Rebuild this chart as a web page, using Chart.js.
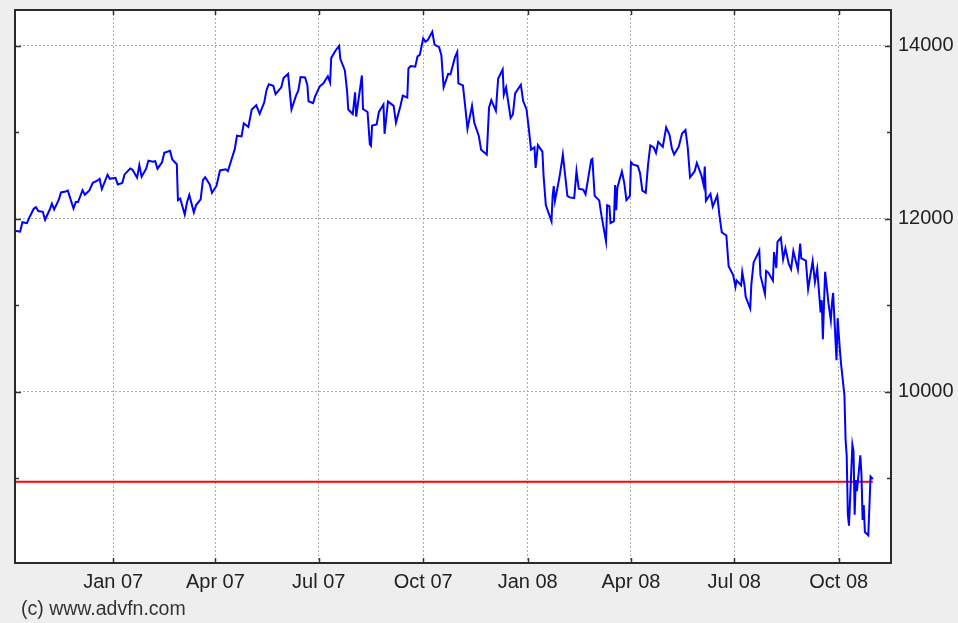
<!DOCTYPE html>
<html>
<head>
<meta charset="utf-8">
<script src="https://cdn.jsdelivr.net/npm/chart.js@4"></script>
<style>
  html, body { margin: 0; padding: 0; background: #eeeeee; }
  #wrap { width: 958px; height: 623px; position: relative; }
</style>
</head>
<body>
<div id="wrap"><canvas id="c"></canvas></div>
<script>
// ---- data ----
const dates = [
"2006-10-05","2006-10-09","2006-10-11","2006-10-13","2006-10-17","2006-10-19","2006-10-23","2006-10-25","2006-10-27","2006-10-31",
"2006-11-02","2006-11-06","2006-11-08","2006-11-10","2006-11-14","2006-11-16","2006-11-20","2006-11-22","2006-11-27","2006-11-29",
"2006-12-01","2006-12-05","2006-12-07","2006-12-11","2006-12-14","2006-12-18","2006-12-20","2006-12-22","2006-12-27","2006-12-29",
"2007-01-03","2007-01-05","2007-01-09","2007-01-11","2007-01-16","2007-01-18","2007-01-22","2007-01-24","2007-01-26","2007-01-30",
"2007-02-01","2007-02-05","2007-02-07","2007-02-09","2007-02-13","2007-02-15","2007-02-20","2007-02-22","2007-02-26","2007-02-27",
"2007-03-01","2007-03-05","2007-03-07","2007-03-09","2007-03-13","2007-03-15","2007-03-19","2007-03-21","2007-03-23","2007-03-27",
"2007-03-29","2007-04-02","2007-04-05","2007-04-10","2007-04-12","2007-04-16","2007-04-18","2007-04-20","2007-04-24","2007-04-26",
"2007-04-30","2007-05-03","2007-05-07","2007-05-10","2007-05-14","2007-05-16","2007-05-18","2007-05-22","2007-05-24","2007-05-29",
"2007-05-31","2007-06-04","2007-06-07","2007-06-11","2007-06-13","2007-06-15","2007-06-19","2007-06-21","2007-06-22","2007-06-26",
"2007-06-28","2007-07-02","2007-07-05","2007-07-09","2007-07-11","2007-07-12","2007-07-16","2007-07-19","2007-07-20","2007-07-24",
"2007-07-26","2007-07-27","2007-07-31","2007-08-02","2007-08-03","2007-08-08","2007-08-09","2007-08-13","2007-08-15","2007-08-16",
"2007-08-17","2007-08-21","2007-08-23","2007-08-27","2007-08-28","2007-08-30","2007-08-31","2007-09-05","2007-09-07","2007-09-11",
"2007-09-13","2007-09-17","2007-09-18","2007-09-20","2007-09-24","2007-09-26","2007-09-28","2007-10-01","2007-10-03","2007-10-05",
"2007-10-09","2007-10-11","2007-10-15","2007-10-17","2007-10-19","2007-10-23","2007-10-25","2007-10-29","2007-10-31","2007-11-01",
"2007-11-05","2007-11-07","2007-11-09","2007-11-13","2007-11-15","2007-11-19","2007-11-21","2007-11-26","2007-11-28","2007-11-30",
"2007-12-04","2007-12-06","2007-12-10","2007-12-11","2007-12-13","2007-12-17","2007-12-19","2007-12-21","2007-12-26","2007-12-28",
"2007-12-31","2008-01-02","2008-01-04","2008-01-07","2008-01-08","2008-01-10","2008-01-14","2008-01-15","2008-01-17","2008-01-22",
"2008-01-23","2008-01-24","2008-01-25","2008-01-29","2008-01-31","2008-02-01","2008-02-05","2008-02-07","2008-02-11","2008-02-13",
"2008-02-15","2008-02-19","2008-02-21","2008-02-26","2008-02-27","2008-02-29","2008-03-04","2008-03-06","2008-03-10","2008-03-11",
"2008-03-13","2008-03-14","2008-03-17","2008-03-18","2008-03-19","2008-03-20","2008-03-24","2008-03-26","2008-03-28","2008-03-31",
"2008-04-01","2008-04-03","2008-04-07","2008-04-09","2008-04-11","2008-04-14","2008-04-16","2008-04-18","2008-04-21","2008-04-23",
"2008-04-25","2008-04-29","2008-05-02","2008-05-05","2008-05-07","2008-05-09","2008-05-13","2008-05-16","2008-05-19","2008-05-21",
"2008-05-23","2008-05-27","2008-05-29","2008-06-02","2008-06-04","2008-06-05","2008-06-06","2008-06-10","2008-06-12","2008-06-16",
"2008-06-18","2008-06-20","2008-06-24","2008-06-26","2008-06-30","2008-07-02","2008-07-03","2008-07-07","2008-07-08","2008-07-10",
"2008-07-11","2008-07-15","2008-07-16","2008-07-18","2008-07-22","2008-07-23","2008-07-24","2008-07-28","2008-07-29","2008-07-31",
"2008-08-04","2008-08-05","2008-08-07","2008-08-08","2008-08-11","2008-08-13","2008-08-15","2008-08-18","2008-08-20","2008-08-22",
"2008-08-26","2008-08-28","2008-08-29","2008-09-02","2008-09-04","2008-09-08","2008-09-10","2008-09-12","2008-09-15","2008-09-16",
"2008-09-17","2008-09-18","2008-09-19","2008-09-22","2008-09-24","2008-09-25","2008-09-26","2008-09-29","2008-09-30","2008-10-02",
"2008-10-03","2008-10-06","2008-10-07","2008-10-08","2008-10-09","2008-10-10","2008-10-13","2008-10-14","2008-10-15","2008-10-16",
"2008-10-17","2008-10-20","2008-10-21","2008-10-22","2008-10-23","2008-10-24","2008-10-27","2008-10-29","2008-10-31"
];
const closes = [
11866,11857,11852,11961,11950,12011,12116,12134,12090,12081,
11989,12105,12176,12108,12218,12305,12316,12326,12121,12194,
12194,12331,12278,12328,12416,12441,12463,12343,12510,12463,
12474,12398,12416,12514,12582,12567,12477,12621,12487,12580,
12673,12661,12666,12580,12654,12765,12786,12686,12632,12216,
12234,12050,12192,12276,12075,12159,12226,12447,12481,12397,
12300,12383,12560,12573,12552,12720,12803,12961,12953,13105,
13062,13264,13313,13215,13347,13488,13557,13539,13441,13521,
13627,13676,13266,13424,13482,13639,13635,13545,13360,13337,
13422,13535,13565,13649,13577,13861,13950,14000,13851,13716,
13473,13265,13212,13463,13181,13658,13270,13236,12861,12845,
13079,13091,13236,13322,12983,13238,13358,13306,13113,13308,
13424,13403,13739,13766,13759,13878,13896,14088,14047,14066,
14164,14015,13985,13892,13522,13676,13671,13870,13930,13567,
13543,13300,13042,13307,13110,12958,12799,12743,13289,13372,
13249,13620,13727,13433,13518,13167,13207,13451,13551,13365,
13265,13044,12800,12827,12589,12853,12778,12501,12159,11971,
12270,12378,12207,12480,12650,12743,12265,12248,12240,12552,
12348,12337,12284,12684,12694,12266,12213,12040,11740,12156,
12145,11951,11972,12392,12099,12361,12548,12422,12216,12263,
12654,12626,12612,12527,12325,12302,12620,12849,12825,12763,
12891,12832,13058,12969,12814,12745,12832,12986,13028,12824,
12479,12548,12646,12503,12390,12604,12209,12289,12141,12269,
12029,11843,11807,11453,11350,11215,11288,11231,11384,11229,
11100,10963,11239,11496,11602,11632,11349,11131,11397,11378,
11284,11616,11431,11734,11782,11532,11659,11479,11417,11628,
11413,11715,11543,11516,11188,11511,11268,11421,10917,11059,
10609,11019,11388,11016,10825,11022,11143,10365,10851,10482,
10325,9955,9447,9258,8579,8451,9387,9310,8577,8979,
8852,9265,9033,8519,8691,8378,8340,9020,8990
];
const lastPrice = 8960;            // red reference line level
const tickDates  = ["2007-01-01","2007-04-01","2007-07-01","2007-10-01","2008-01-01","2008-04-01","2008-07-01","2008-10-01"];
const tickLabels = ["Jan 07","Apr 07","Jul 07","Oct 07","Jan 08","Apr 08","Jul 08","Oct 08"];
const yTickValues = [9000,10000,11000,12000,13000,14000];
const yLabelStep = 2000;
const copyright = "(c) www.advfn.com";

// ---- helpers ----
const BASE = Date.UTC(2007,0,1);
function dayNum(s){ const p = s.split('-').map(Number); return (Date.UTC(p[0],p[1]-1,p[2]) - BASE) / 86400000; }
const points = dates.map((d,i) => ({x: dayNum(d), y: closes[i]}));
const tickDays = tickDates.map(dayNum);
const refLine = [{x: dayNum(dates[0]), y: lastPrice}, {x: dayNum(dates[dates.length-1]), y: lastPrice}];

const GRID = 'rgba(150,165,165,0.85)';
const FONT = "'Liberation Sans', Arial, sans-serif";

const framePlugin = {
  id: 'frame',
  beforeDraw(chart){
    const {ctx, chartArea:a} = chart;
    ctx.save();
    ctx.fillStyle = '#ffffff';
    ctx.fillRect(a.left, a.top, a.right-a.left, a.bottom-a.top);
    ctx.restore();
  },
  afterDraw(chart){
    const {ctx, chartArea:a} = chart;
    const xs = chart.scales.x, ys = chart.scales.y;
    ctx.save();
    ctx.strokeStyle = '#333333';
    ctx.lineWidth = 1.5;
    ctx.beginPath();
    tickDays.forEach(d => {
      const px = Math.round(xs.getPixelForValue(d)) + 0.5;
      ctx.moveTo(px, a.top); ctx.lineTo(px, a.top+5);
      ctx.moveTo(px, a.bottom); ctx.lineTo(px, a.bottom-5);
    });
    yTickValues.forEach(v => {
      const py = Math.round(ys.getPixelForValue(v)) + 0.5;
      const len = v % yLabelStep === 0 ? 6 : 4;
      ctx.moveTo(a.left, py); ctx.lineTo(a.left+len, py);
      ctx.moveTo(a.right, py); ctx.lineTo(a.right-len, py);
    });
    ctx.stroke();
    ctx.lineWidth = 2;
    ctx.strokeStyle = '#2a2a2a';
    ctx.strokeRect(a.left, a.top, a.right-a.left, a.bottom-a.top);
    ctx.fillStyle = '#333333';
    ctx.font = "19.5px " + FONT;
    ctx.textBaseline = 'middle';
    ctx.textAlign = 'left';
    ctx.fillText(copyright, 21, 610);
    ctx.restore();
  }
};

new Chart(document.getElementById('c'), {
  type: 'line',
  data: {
    datasets: [
      { data: points, borderColor: '#0000ff', borderWidth: 2, pointRadius: 0, tension: 0, order: 1 },
      { data: refLine, borderColor: '#ff0000', borderWidth: 2, pointRadius: 0, tension: 0, order: 2 }
    ]
  },
  options: {
    responsive: true,
    maintainAspectRatio: false,
    animation: false,
    parsing: true,
    layout: { padding: { left: 15, top: 10, right: 0, bottom: 0 } },
    plugins: { legend: { display: false }, tooltip: { enabled: false } },
    scales: {
      x: {
        type: 'linear', position: 'bottom', min: -86.5, max: 685,
        afterBuildTicks(s){ s.ticks = tickDays.map(v => ({value: v})); },
        afterFit(s){ s.height = 60; s.paddingLeft = 0; s.paddingRight = 0; },
        grid: { color: GRID, lineWidth: 1, drawTicks: false },
        border: { display: false, dash: [2,2] },
        ticks: {
          autoSkip: false, maxRotation: 0, padding: 7, color: '#222222',
          font: { family: FONT, size: 20 },
          callback(v){ const i = tickDays.indexOf(v); return i >= 0 ? tickLabels[i] : ''; }
        }
      },
      y: {
        type: 'linear', position: 'right', min: 8020, max: 14415,
        afterBuildTicks(s){ s.ticks = yTickValues.map(v => ({value: v})); },
        afterFit(s){ s.width = 67; s.paddingTop = 0; s.paddingBottom = 0; },
        grid: { color: ctx => (ctx.tick && ctx.tick.value % yLabelStep === 0) ? GRID : 'rgba(0,0,0,0)', lineWidth: 1, drawTicks: false },
        border: { display: false, dash: [2,2] },
        ticks: {
          padding: 7, color: '#222222',
          font: { family: FONT, size: 20 },
          callback(v){ return v % yLabelStep === 0 ? String(v) : ''; }
        }
      }
    }
  },
  plugins: [framePlugin]
});
</script>
</body>
</html>
